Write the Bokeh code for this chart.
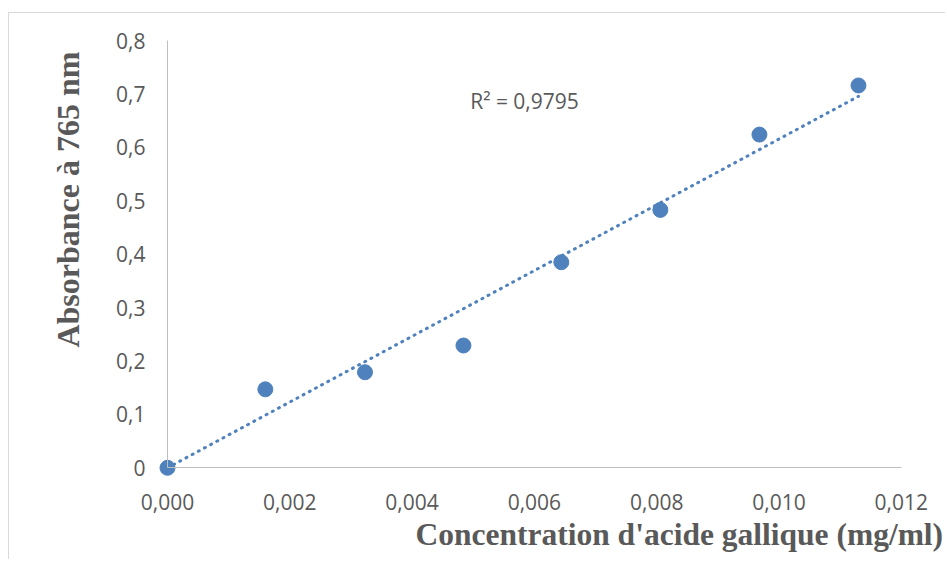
import numpy as np
from math import pi
from bokeh.plotting import figure
from bokeh.models import Range1d, FixedTicker, Label
from bokeh.embed import file_html
from bokeh.resources import INLINE

# ---- data ----
concentration = [0.0, 0.0016, 0.00323, 0.00484, 0.00644, 0.00806, 0.00968, 0.0113]
absorbance = [0.0, 0.147, 0.179, 0.229, 0.385, 0.483, 0.624, 0.716]
x_ticks = [0.0, 0.002, 0.004, 0.006, 0.008, 0.010, 0.012]
x_tick_labels = ["0,000", "0,002", "0,004", "0,006", "0,008", "0,010", "0,012"]
y_ticks = [0.0, 0.1, 0.2, 0.3, 0.4, 0.5, 0.6, 0.7, 0.8]
y_tick_labels = ["0", "0,1", "0,2", "0,3", "0,4", "0,5", "0,6", "0,7", "0,8"]
r2_text = "R\u00b2 = 0,9795"
x_title = "Concentration d'acide gallique (mg/ml)"
y_title = "Absorbance \u00e0 765 nm"

# linear trend line through the origin (least squares)
xa = np.array(concentration)
ya = np.array(absorbance)
slope = float((xa * ya).sum() / (xa * xa).sum())
fit_x = [0.0, float(xa.max())]
fit_y = [0.0, slope * float(xa.max())]

BLUE = "#4f81bd"
GREY_TXT = "#595959"
AXIS = "#bfbfbf"
FRAME = "#d9d9d9"

# the plot frame fills the whole canvas; axes sit at x = 0 and y = 0
p = figure(width=945, height=559,
           x_range=Range1d(-0.002731, 0.012723), y_range=Range1d(-0.1717, 0.8751),
           output_backend="svg", toolbar_location=None, min_border=0)
p.outline_line_color = None
p.grid.visible = False
p.border_fill_color = None
p.background_fill_color = None
p.styles = {
    "background-color": "white",
    "background-image": f"linear-gradient({FRAME},{FRAME}), linear-gradient({FRAME},{FRAME})",
    "background-size": "1px 100%, 100% 1px",
    "background-position": "8px 12px, 8px 12px",
    "background-repeat": "no-repeat",
}

for ax, ticks, labels in ((p.xaxis[0], x_ticks, x_tick_labels),
                          (p.yaxis[0], y_ticks, y_tick_labels)):
    ax.ticker = FixedTicker(ticks=ticks)
    ax.major_label_overrides = {t: l for t, l in zip(ticks, labels)}
    ax.fixed_location = 0
    ax.bounds = (ticks[0], ticks[-1])
    ax.axis_line_color = AXIS
    ax.axis_line_width = 1
    ax.major_tick_in = 0
    ax.major_tick_out = 0
    ax.minor_tick_in = 0
    ax.minor_tick_out = 0
    ax.major_label_text_color = GREY_TXT
    ax.major_label_text_font = "Open Sans"
    ax.major_label_text_font_size = "21px"

p.yaxis.major_label_standoff = 22
p.xaxis.major_label_standoff = 26

p.line(fit_x, fit_y, line_color=BLUE, line_width=3, line_dash="1 6", line_cap="round")
p.scatter(concentration, absorbance, size=15, fill_color=BLUE, line_color=BLUE)

p.add_layout(Label(x=0.00495, y=0.686, text=r2_text, text_align="left",
                   text_baseline="middle", text_font="Open Sans",
                   text_font_size="21px", text_color=GREY_TXT))
p.add_layout(Label(x=-0.00162, y=0.5024, text=y_title, angle=pi / 2,
                   text_align="center", text_baseline="alphabetic",
                   text_font="Liberation Serif", text_font_style="bold",
                   text_font_size="32px", text_color=GREY_TXT))
p.add_layout(Label(x=0.004056, y=-0.1240, text=x_title, text_align="left",
                   text_baseline="alphabetic", text_font="Liberation Serif",
                   text_font_style="bold", text_font_size="31.5px",
                   text_color=GREY_TXT))

open("out.html", "w").write(file_html(p, INLINE))
